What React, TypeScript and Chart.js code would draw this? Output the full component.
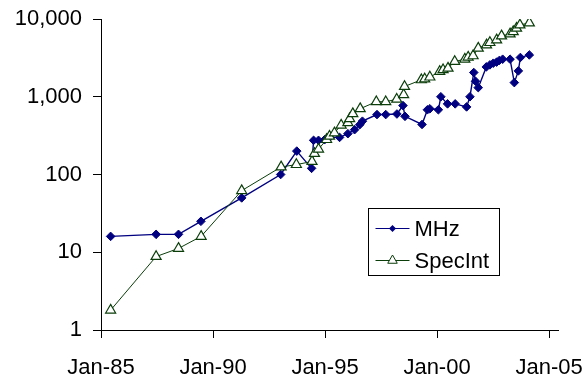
import React, { useEffect, useRef } from 'react';
import { Chart, registerables } from 'chart.js';

Chart.register(...registerables);

// ---- data (decimal year, value) ----
const mhzYears = [
  1985.43, 1987.46, 1988.46, 1989.46, 1991.28, 1993.02, 1993.74, 1994.40, 1994.49, 1994.71,
  1994.98, 1995.20, 1995.65, 1996.02, 1996.32, 1996.55, 1996.67, 1997.32, 1997.71, 1998.21,
  1998.48, 1998.57, 1999.33, 1999.57, 1999.68, 2000.06, 2000.17, 2000.47, 2000.81, 2001.32,
  2001.47, 2001.64, 2001.72, 2001.84, 2002.20, 2002.36, 2002.51, 2002.66, 2002.78, 2002.93,
  2003.26, 2003.45, 2003.63, 2003.72, 2004.12,
];
const mhzValues = [
  16, 17, 17, 25, 50, 100, 200, 120, 275, 275,
  280, 300, 300, 335, 377, 437, 485, 590, 590, 600,
  770, 560, 440, 680, 700, 680, 1000, 810, 810, 740,
  1000, 2050, 1580, 1310, 2420, 2570, 2700, 2790, 2930, 3040,
  3040, 1520, 2150, 3200, 3450,
];

const specYears = [
  1985.43, 1987.46, 1988.46, 1989.47, 1991.28, 1993.04, 1993.72, 1994.42, 1994.53, 1994.71,
  1995.07, 1995.20, 1995.42, 1995.72, 1996.02, 1996.10, 1996.24, 1996.57, 1997.29, 1997.71,
  1998.20, 1998.51, 1998.55, 1999.30, 1999.45, 1999.68, 2000.12, 2000.27, 2000.49, 2000.79,
  2001.24, 2001.39, 2001.61, 2001.84, 2002.21, 2002.36, 2002.66, 2002.88, 2003.26, 2003.40,
  2003.55, 2003.70, 2004.12,
];
const specValues = [
  1.8, 8.8, 11.2, 16, 62, 125, 134, 147, 186, 212,
  281, 310, 343, 431, 464, 522, 605, 702, 863, 863,
  929, 1060, 1355, 1650, 1690, 1790, 2110, 2220, 2330, 2840,
  3040, 3230, 3360, 4210, 4640, 4970, 5380, 6050, 6420, 6870,
  7600, 8380, 8900,
];

const seriesNames = ['MHz', 'SpecInt'];
const xTickYears = [1985, 1990, 1995, 2000, 2005];
const yTickValues = [1, 10, 100, 1000, 10000];

const MHZ_COLOR = '#000080';
const SPEC_COLOR = '#0a3d0a';
const FONT = "'Liberation Sans', Arial, sans-serif";

const legendPlugin = {
  id: 'customLegend',
  afterDraw(chart: any) {
    const { ctx, chartArea } = chart;
    const w = chartArea.right - chartArea.left;
    const h = chartArea.bottom - chartArea.top;
    const bx = Math.round(chartArea.left + w * 0.584) + 0.5;
    const by = Math.round(chartArea.top + h * 0.609) + 0.5;
    const bw = 131;
    const bh = 67;
    ctx.save();
    ctx.fillStyle = '#ffffff';
    ctx.fillRect(bx, by, bw, bh);
    ctx.strokeStyle = '#000000';
    ctx.lineWidth = 1;
    ctx.strokeRect(bx, by, bw, bh);

    const rows = [by + 20, by + 52];
    const lx0 = bx + 7;
    const lx1 = bx + 41;
    const mx = (lx0 + lx1) / 2;
    // MHz
    ctx.strokeStyle = MHZ_COLOR;
    ctx.lineWidth = 1.2;
    ctx.beginPath();
    ctx.moveTo(lx0, rows[0]);
    ctx.lineTo(lx1, rows[0]);
    ctx.stroke();
    ctx.fillStyle = MHZ_COLOR;
    ctx.beginPath();
    ctx.moveTo(mx, rows[0] - 3.5);
    ctx.lineTo(mx + 3.5, rows[0]);
    ctx.lineTo(mx, rows[0] + 3.5);
    ctx.lineTo(mx - 3.5, rows[0]);
    ctx.closePath();
    ctx.fill();
    // SpecInt
    ctx.strokeStyle = SPEC_COLOR;
    ctx.lineWidth = 1;
    ctx.beginPath();
    ctx.moveTo(lx0, rows[1]);
    ctx.lineTo(lx1, rows[1]);
    ctx.stroke();
    ctx.fillStyle = '#ffffff';
    ctx.beginPath();
    const r = 5.5;
    ctx.moveTo(mx, rows[1] - r);
    ctx.lineTo(mx + r * 0.866, rows[1] + r / 2);
    ctx.lineTo(mx - r * 0.866, rows[1] + r / 2);
    ctx.closePath();
    ctx.fill();
    ctx.stroke();

    ctx.fillStyle = '#000000';
    ctx.font = `22px ${FONT}`;
    ctx.textBaseline = 'middle';
    ctx.textAlign = 'left';
    ctx.fillText(seriesNames[0], bx + 46, rows[0] + 1);
    ctx.fillText(seriesNames[1], bx + 46, rows[1] + 1);
    ctx.restore();
  },
};

export default function App() {
  const canvasRef = useRef<HTMLCanvasElement | null>(null);

  useEffect(() => {
    document.body.style.margin = '0';
    const canvas = canvasRef.current;
    if (!canvas) return;
    const chart = new Chart(canvas, {
      type: 'line',
      data: {
        datasets: [
          {
            label: seriesNames[0],
            data: mhzYears.map((x, i) => ({ x, y: mhzValues[i] })),
            borderColor: MHZ_COLOR,
            backgroundColor: MHZ_COLOR,
            borderWidth: 1.4,
            pointStyle: 'rectRot',
            pointRadius: 4.3,
            pointBorderWidth: 1,
            pointBackgroundColor: MHZ_COLOR,
            pointBorderColor: MHZ_COLOR,
            tension: 0,
            order: 1,
          },
          {
            label: seriesNames[1],
            data: specYears.map((x, i) => ({ x, y: specValues[i] })),
            borderColor: SPEC_COLOR,
            backgroundColor: '#ffffff',
            borderWidth: 1,
            pointStyle: 'triangle',
            pointRadius: 5.8,
            pointBorderWidth: 1.2,
            pointBackgroundColor: '#ffffff',
            pointBorderColor: SPEC_COLOR,
            tension: 0,
            order: 0,
          },
        ],
      },
      options: {
        responsive: false,
        animation: false,
        events: [],
        layout: { padding: { left: 0, right: 29, top: 19, bottom: 0 } },
        plugins: {
          legend: { display: false },
          tooltip: { enabled: false },
          title: { display: false },
        },
        scales: {
          x: {
            type: 'linear',
            min: 1985,
            max: 2005.4,
            grid: { drawOnChartArea: false, drawTicks: true, tickLength: 8, color: '#000000', lineWidth: 1 },
            border: { display: true, color: '#000000', width: 1 },
            ticks: {
              color: '#000000',
              font: { family: FONT, size: 22 },
              padding: 17,
              maxRotation: 0,
              autoSkip: false,
              callback: (v: any) => 'Jan-' + String(Number(v) % 100).padStart(2, '0'),
            },
            afterBuildTicks: (s: any) => {
              s.ticks = xTickYears.map((v) => ({ value: v }));
            },
            afterFit: (s: any) => {
              s.height = 47;
              s.paddingLeft = 0;
              s.paddingRight = 0;
            },
          },
          y: {
            type: 'logarithmic',
            min: 1,
            max: 10000,
            grid: { drawOnChartArea: false, drawTicks: true, tickLength: 8, color: '#000000', lineWidth: 1 },
            border: { display: true, color: '#000000', width: 1 },
            ticks: {
              color: '#000000',
              font: { family: FONT, size: 22 },
              padding: 11,
              autoSkip: false,
              callback: (v: any) => Number(v).toLocaleString('en-US'),
            },
            afterBuildTicks: (s: any) => {
              s.ticks = yTickValues.map((v) => ({ value: v }));
            },
            afterFit: (s: any) => {
              s.width = 101;
              s.paddingTop = 0;
              s.paddingBottom = 0;
            },
          },
        },
      },
      plugins: [legendPlugin],
    });
    return () => chart.destroy();
  }, []);

  return (
    <div style={{ width: 587, height: 377, background: '#ffffff' }}>
      <canvas ref={canvasRef} width={587} height={377} style={{ display: 'block' }} />
    </div>
  );
}
